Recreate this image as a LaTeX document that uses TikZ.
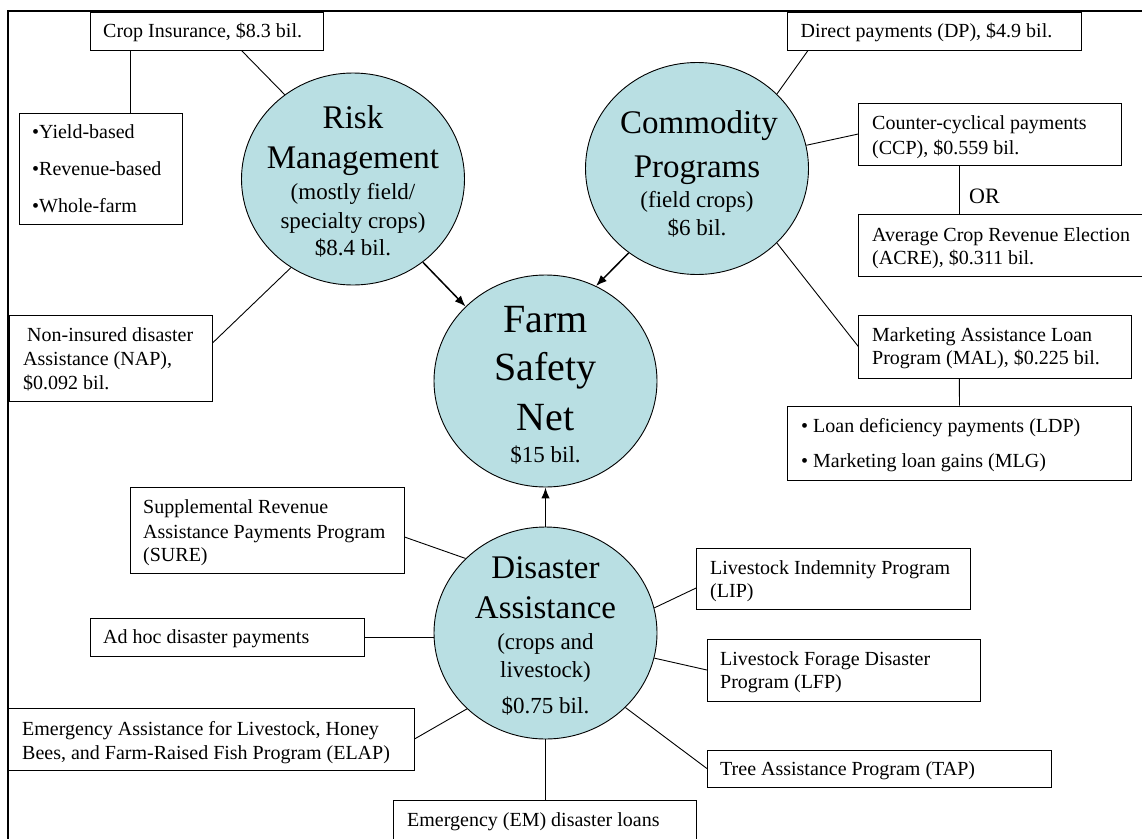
\documentclass[tikz,border=0pt]{standalone}
\usepackage{fontspec}
\setmainfont{Liberation Serif}
\usetikzlibrary{shapes.geometric,arrows.meta,calc,fit}
\definecolor{circfill}{RGB}{185,223,227}
\tikzset{
  box/.style={draw, rectangle, line width=1pt, inner sep=0pt},
  circ/.style={draw, ellipse, fill=circfill, line width=0.9pt, minimum width=223pt, minimum height=212pt, inner sep=0pt},
  link/.style={line width=0.9pt},
  arr/.style={line width=1.5pt, -{Latex[length=11pt,width=8.5pt]}},
  txt/.style={anchor=base west, inner sep=0pt, font=\fontsize{20}{24}\selectfont},
  ortxt/.style={anchor=base west, inner sep=0pt, font=\fontsize{22}{26}\selectfont},
  big/.style={anchor=base, inner sep=0pt, font=\fontsize{33}{40}\selectfont},
  huge/.style={anchor=base, inner sep=0pt, font=\fontsize{40}{48}\selectfont},
  small/.style={anchor=base, inner sep=0pt, font=\fontsize{23}{28}\selectfont}
}
\begin{document}
\begin{tikzpicture}[x=1pt,y=-1pt]
\useasboundingbox (0,0) rectangle (1142,838);
\clip (0,0) rectangle (1142,838);
% frame
\draw[line width=2pt] (8,850) -- (8,11) -- (1160,11);

% circles
\node[circ] (rm) at (353,179) {};
\node[circ] (cp) at (697,168.5) {};
\node[circ] (fsn) at (545.5,381) {};
\node[circ] (da) at (545.5,633) {};

% circle texts
\node[big] (rm1) at (353,128) {Risk};
\node[big] (rm2) at (353,168) {Management};
\node[small] (rm3) at (353,199) {(mostly field/};
\node[small] (rm4) at (353,228) {specialty crops)};
\node[small] (rm5) at (353,255) {\$8.4 bil.};

\node[big] (cp1) at (699,133) {Commodity};
\node[big] (cp2) at (697,177) {Programs};
\node[small] (cp3) at (697,207) {(field crops)};
\node[small] (cp4) at (697,235) {\$6 bil.};

\node[huge] (fs1) at (545.5,332) {Farm};
\node[huge] (fs2) at (545.5,380) {Safety};
\node[huge] (fs3) at (545.5,430) {Net};
\node[small] (fs4) at (545.5,462) {\$15 bil.};

\node[big] (da1) at (545.5,578) {Disaster};
\node[big] (da2) at (545.5,618) {Assistance};
\node[small] (da3) at (545.5,649) {(crops and};
\node[small] (da4) at (545.5,677) {livestock)};
\node[small] (da5) at (545.5,713) {\$0.75 bil.};

% boxes
\node[box, fit={(90,12) (323,50)}] (ci) {};
\node[box, fit={(19,113) (182,224)}] (bul) {};
\node[box, fit={(9,315) (212,401)}] (nap) {};
\node[box, fit={(787.5,12) (1081.5,50)}] (dp) {};
\node[box, fit={(858.8,103) (1121,165)}] (ccp) {};
\node[box, fit={(858.8,214) (1170,276)}] (acre) {};
\node[box, fit={(858.8,315) (1131.6,378)}] (mal) {};
\node[box, fit={(787.5,406) (1131.6,480)}] (ldp) {};
\node[box, fit={(130,487) (404,573)}] (sure) {};
\node[box, fit={(90,618) (364,656)}] (adhoc) {};
\node[box, fit={(8,708) (414,770)}] (elap) {};
\node[box, fit={(393,800) (696.6,850)}] (em) {};
\node[box, fit={(696.6,548) (970,609)}] (lip) {};
\node[box, fit={(707.4,639) (980,701)}] (lfp) {};
\node[box, fit={(707.4,750) (1051,787)}] (tap) {};

% box texts
\node[txt] (cit) at (103,37) {Crop Insurance, \$8.3 bil.};
\node[txt] (bul1) at (32,138) {•Yield-based};
\node[txt] (bul2) at (32,175) {•Revenue-based};
\node[txt] (bul3) at (32,212) {•Whole-farm};
\node[txt] (nap1) at (27,341) {Non-insured disaster};
\node[txt] (nap2) at (23,365) {Assistance (NAP),};
\node[txt] (nap3) at (23,389) {\$0.092 bil.};
\node[txt] (dpt) at (800.5,37) {Direct payments (DP), \$4.9 bil.};
\node[txt] (ccp1) at (872,129) {Counter-cyclical payments};
\node[txt] (ccp2) at (872,154) {(CCP), \$0.559 bil.};
\node[ortxt] (ort) at (969,203) {OR};
\node[txt] (acre1) at (872,241) {Average Crop Revenue Election};
\node[txt] (acre2) at (872,264) {(ACRE), \$0.311 bil.};
\node[txt] (mal1) at (872,341) {Marketing Assistance Loan};
\node[txt] (mal2) at (872,364) {Program (MAL), \$0.225 bil.};
\node[txt] (ldp1) at (801,432) {• Loan deficiency payments (LDP)};
\node[txt] (ldp2) at (801,467) {• Marketing loan gains (MLG)};
\node[txt] (sure1) at (143,513) {Supplemental Revenue};
\node[txt] (sure2) at (143,538) {Assistance Payments Program};
\node[txt] (sure3) at (143,561) {(SURE)};
\node[txt] (adt) at (103,643) {Ad hoc disaster payments};
\node[txt] (elap1) at (22,735) {Emergency Assistance for Livestock, Honey};
\node[txt] (elap2) at (22,759) {Bees, and Farm-Raised Fish Program (ELAP)};
\node[txt] (emt) at (407,826) {Emergency (EM) disaster loans};
\node[txt] (lip1) at (710,574) {Livestock Indemnity Program};
\node[txt] (lip2) at (710,597) {(LIP)};
\node[txt] (lfp1) at (720,665) {Livestock Forage Disaster};
\node[txt] (lfp2) at (720,688) {Program (LFP)};
\node[txt] (tapt) at (720,775) {Tree Assistance Program (TAP)};

% connectors: risk management
\draw[link] ($(ci.south west)+(152,0)$) -- (rm.129);
\draw[link] ($(ci.south west)+(41,0)$) -- ($(bul.north west)+(112,0)$);
\draw[link] ($(nap.east)+(0,-15)$) -- (rm.235);
% commodity
\draw[link] ($(dp.south west)+(21,0)$) -- (cp.43);
\draw[link] (ccp.west) -- (cp.12);
\draw[link] (mal.west) -- (cp.-43);
\draw[link] ($(ccp.south west)+(101,0)$) -- ($(acre.north west)+(101,0)$);
\draw[link] ($(mal.south west)+(101,0)$) -- ($(ldp.north west)+(172.5,0)$);
% disaster
\draw[link] ($(sure.east)+(0,7)$) -- (da.137);
\draw[link] (adhoc.east) -- (adhoc.east -| da.west);
\draw[link] (elap.east) -- (da.224);
\draw[link] (da.south) -- (da.south |- em.north);
\draw[link] ($(lip.west)+(0,9.5)$) -- (da.13);
\draw[link] (lfp.west) -- (da.-13);
\draw[link] (tap.west) -- (da.-43);

% arrows into Farm Safety Net
\draw[arr] (rm.-50) -- (fsn.137);
\draw[arr] (cp.231) -- (fsn.62);
\draw[arr] (da.north) -- (fsn.south);
\end{tikzpicture}
\end{document}
